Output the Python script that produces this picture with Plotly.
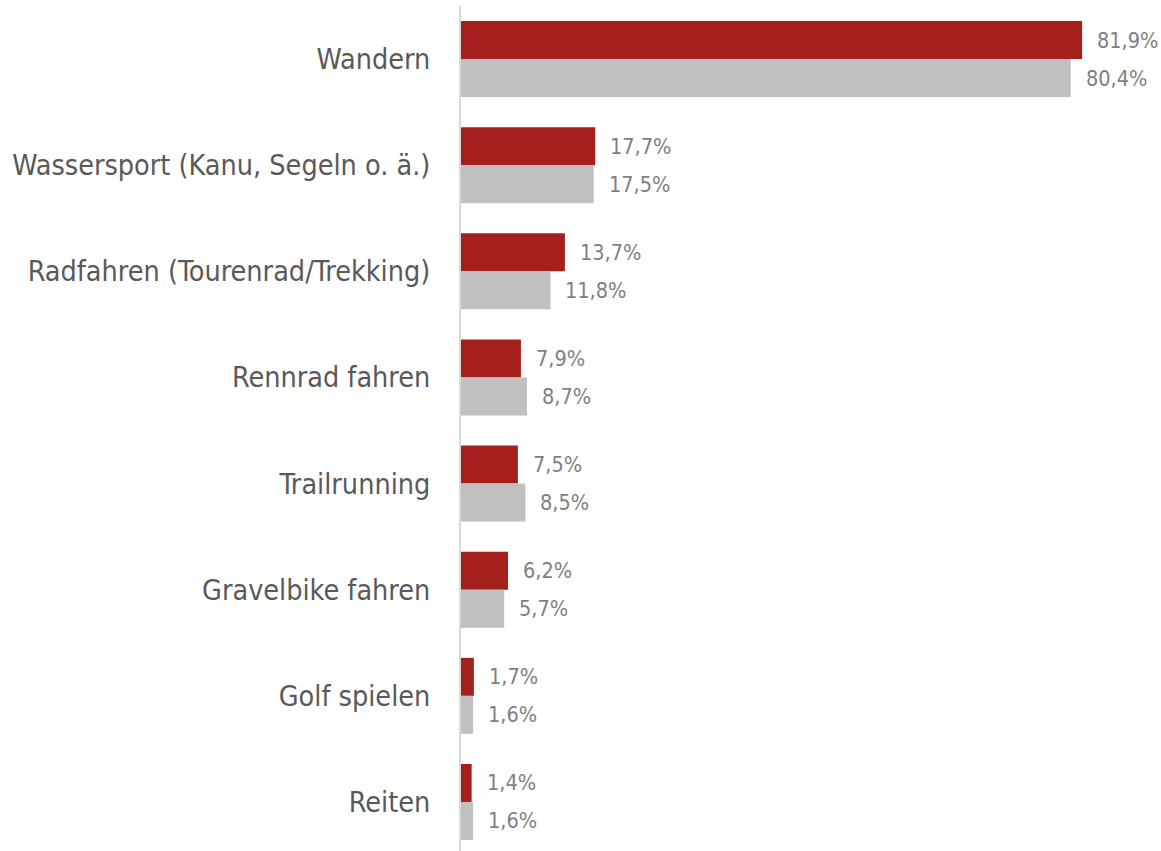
import plotly.graph_objects as go

categories = [
    "Wandern",
    "Wassersport (Kanu, Segeln o. ä.)",
    "Radfahren (Tourenrad/Trekking)",
    "Rennrad fahren",
    "Trailrunning",
    "Gravelbike fahren",
    "Golf spielen",
    "Reiten",
]
series_red = [81.9, 17.7, 13.7, 7.9, 7.5, 6.2, 1.7, 1.4]
series_gray = [80.4, 17.5, 11.8, 8.7, 8.5, 5.7, 1.6, 1.6]

RED = "#A5201C"
GRAY = "#C0C0C0"
FONT = "DejaVu Sans Condensed, Liberation Sans Narrow, Arial Narrow, sans-serif"


def fmt(v):
    return f"{v:.1f}".replace(".", ",") + "%"


fig = go.Figure()
fig.add_trace(go.Bar(
    y=categories, x=series_red, orientation="h",
    marker=dict(color=RED, line=dict(width=0)),
    name="A", offsetgroup="a",
))
fig.add_trace(go.Bar(
    y=categories, x=series_gray, orientation="h",
    marker=dict(color=GRAY, line=dict(width=0)),
    name="B", offsetgroup="b",
))

# value labels to the right of each bar
bar_half = 0.358  # fraction of a category band occupied by one bar
annotations = []
for i, (r, g) in enumerate(zip(series_red, series_gray)):
    for val, off in ((r, -bar_half / 2), (g, bar_half / 2)):
        annotations.append(dict(
            x=val, y=i + off, xref="x", yref="y",
            text=fmt(val), showarrow=False,
            xanchor="left", yanchor="middle", xshift=13,
            font=dict(family=FONT, size=21.5, color="#7F7F7F"),
        ))

fig.update_layout(
    width=1161, height=851,
    margin=dict(l=461, r=0, t=6, b=0, autoexpand=False),
    paper_bgcolor="white", plot_bgcolor="white",
    barmode="group", bargap=0.284, bargroupgap=0,
    showlegend=False,
    annotations=annotations,
    xaxis=dict(range=[0, 92.3], visible=False, fixedrange=True, automargin=False),
    yaxis=dict(
        type="category", automargin=False,
        categoryorder="array", categoryarray=categories,
        range=[7.462, -0.5],
        showgrid=False, zeroline=False,
        showline=True, linecolor="#D9D9D9", linewidth=2,
        ticks="", ticklabelstandoff=23,
        tickfont=dict(family=FONT, size=28.5, color="#595959"),
    ),
)

fig.write_html("out.html")
